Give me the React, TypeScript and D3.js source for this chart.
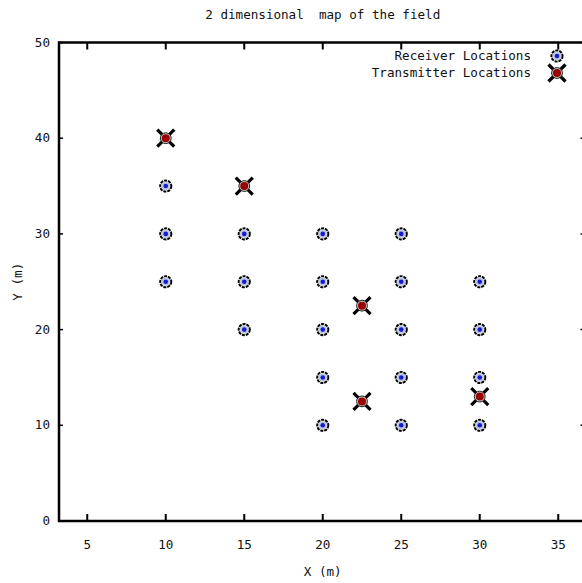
import React from 'react'
import { scaleLinear } from 'd3'

const WIDTH = 582
const HEIGHT = 583

const xTicks = [5, 10, 15, 20, 25, 30, 35]
const yTicks = [0, 10, 20, 30, 40, 50]

const receiverX = [10, 10, 10, 15, 15, 15, 20, 20, 20, 20, 20, 25, 25, 25, 25, 25, 30, 30, 30, 30]
const receiverY = [35, 30, 25, 30, 25, 20, 30, 25, 20, 15, 10, 30, 25, 20, 15, 10, 25, 20, 15, 10]

const transmitterX = [10, 15, 22.5, 22.5, 30]
const transmitterY = [40, 35, 22.5, 12.5, 13]

const FONT = '"DejaVu Sans Mono", monospace'

const Receiver = ({ x, y }) => (
  <g transform={`translate(${x}, ${y})`}>
    <circle r={5.6} style={{ fill: '#d8d8d8', stroke: '#000', strokeWidth: 1.9, strokeDasharray: '3 1' }} />
    <circle r={3.7} style={{ fill: '#b8c4e8' }} />
    <circle r={2.3} style={{ fill: '#1a1ad0' }} />
  </g>
)

const Transmitter = ({ x, y }) => (
  <g transform={`translate(${x}, ${y})`}>
    <line x1={-8.5} y1={-8.5} x2={8.5} y2={8.5} style={{ stroke: '#000', strokeWidth: 3.2 }} />
    <line x1={-8.5} y1={8.5} x2={8.5} y2={-8.5} style={{ stroke: '#000', strokeWidth: 3.2 }} />
    <circle r={5.4} style={{ fill: '#c8c8c8', stroke: '#222', strokeWidth: 1 }} />
    <circle r={4} style={{ fill: '#9a0000' }} />
  </g>
)

const App = () => {
  const xScale = scaleLinear().domain([3.2, 36.8]).range([59, 586.5])
  const yScale = scaleLinear().domain([0, 50]).range([521, 42.5])

  const left = xScale(3.2)
  const right = xScale(36.8)
  const top = yScale(50)
  const bottom = yScale(0)
  const midX = (left + right) / 2

  const textStyle = { fontFamily: FONT, fontSize: 12.6, fill: '#111' }

  return (
    <svg width={WIDTH} height={HEIGHT} viewBox={`0 0 ${WIDTH} ${HEIGHT}`}
      style={{ position: 'absolute', left: 0, top: 0, background: '#fff' }}>
      <rect x={0} y={0} width={WIDTH} height={HEIGHT} fill="#fff" />

      <text x={midX} y={19} textAnchor="middle" style={textStyle} xmlSpace="preserve">
        {'2 dimensional  map of the field'}
      </text>

      {/* ticks */}
      <g>
        {xTicks.map(t => (
          <g key={t}>
            <line x1={xScale(t)} x2={xScale(t)} y1={bottom} y2={bottom - 7} style={{ stroke: '#000', strokeWidth: 2 }} />
            <line x1={xScale(t)} x2={xScale(t)} y1={top} y2={top + 7} style={{ stroke: '#000', strokeWidth: 2 }} />
            <text x={xScale(t)} y={549} textAnchor="middle" style={textStyle}>{t}</text>
          </g>
        ))}
        {yTicks.map(t => (
          <g key={t}>
            <line x1={left} x2={left + 4} y1={yScale(t)} y2={yScale(t)} style={{ stroke: '#000', strokeWidth: 1.5 }} />
            <line x1={right} x2={right - 6} y1={yScale(t)} y2={yScale(t)} style={{ stroke: '#000', strokeWidth: 1.5 }} />
            <text x={50} y={yScale(t) + 4} textAnchor="end" style={textStyle}>{t}</text>
          </g>
        ))}
      </g>

      <rect x={left} y={top} width={right - left} height={bottom - top}
        style={{ fill: 'none', stroke: '#000', strokeWidth: 2.5 }} />

      <text x={midX} y={576} textAnchor="middle" style={textStyle}>X (m)</text>
      <text transform={`translate(22, ${(top + bottom) / 2}) rotate(-90)`} textAnchor="middle" style={textStyle}>Y (m)</text>

      {receiverX.map((x, i) => (
        <Receiver key={`r${i}`} x={xScale(x)} y={yScale(receiverY[i])} />
      ))}
      {transmitterX.map((x, i) => (
        <Transmitter key={`t${i}`} x={xScale(x)} y={yScale(transmitterY[i])} />
      ))}

      {/* legend */}
      <text x={531} y={60} textAnchor="end" style={textStyle}>Receiver Locations</text>
      <Receiver x={557} y={56} />
      <text x={531} y={77} textAnchor="end" style={textStyle}>Transmitter Locations</text>
      <Transmitter x={557} y={73} />
    </svg>
  )
}

export default App
